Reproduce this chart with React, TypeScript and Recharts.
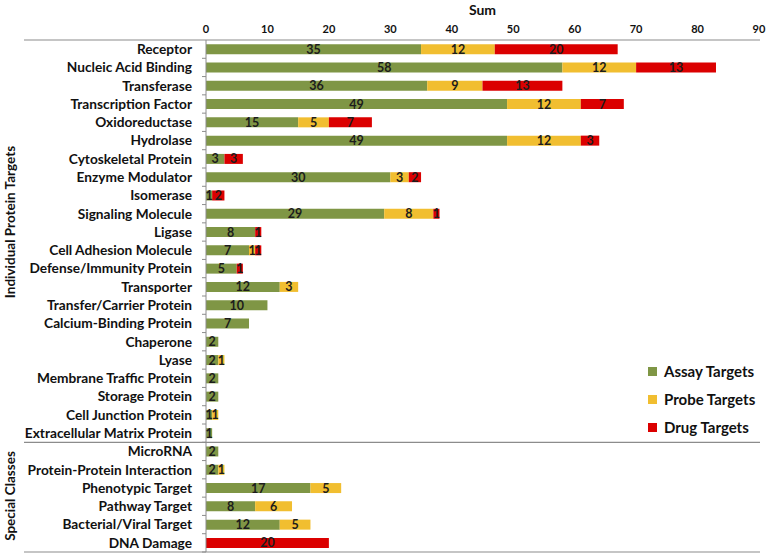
import React from 'react'
import { BarChart, Bar, XAxis, YAxis, Legend, LabelList } from 'recharts'

const categories = [
  'Receptor', 'Nucleic Acid Binding', 'Transferase', 'Transcription Factor',
  'Oxidoreductase', 'Hydrolase', 'Cytoskeletal Protein', 'Enzyme Modulator',
  'Isomerase', 'Signaling Molecule', 'Ligase', 'Cell Adhesion Molecule',
  'Defense/Immunity Protein', 'Transporter', 'Transfer/Carrier Protein',
  'Calcium-Binding Protein', 'Chaperone', 'Lyase', 'Membrane Traffic Protein',
  'Storage Protein', 'Cell Junction Protein', 'Extracellular Matrix Protein',
  'MicroRNA', 'Protein-Protein Interaction', 'Phenotypic Target',
  'Pathway Target', 'Bacterial/Viral Target', 'DNA Damage',
]
const assayTargets = [35, 58, 36, 49, 15, 49, 3, 30, 1, 29, 8, 7, 5, 12, 10, 7, 2, 2, 2, 2, 1, 1, 2, 2, 17, 8, 12, 0]
const probeTargets = [12, 12, 9, 12, 5, 12, 0, 3, 0, 8, 0, 1, 0, 3, 0, 0, 0, 1, 0, 0, 1, 0, 0, 1, 5, 6, 5, 0]
const drugTargets = [20, 13, 13, 7, 7, 3, 3, 2, 2, 1, 1, 1, 1, 0, 0, 0, 0, 0, 0, 0, 0, 0, 0, 0, 0, 0, 0, 20]
const xTicks = [0, 10, 20, 30, 40, 50, 60, 70, 80, 90]

const groups = [
  { name: 'Individual Protein Targets', first: 0, last: 21, center: 222 },
  { name: 'Special Classes', first: 22, last: 27, center: 496 },
]

const series = [
  { key: 'assay', name: 'Assay Targets', color: '#7f9645' },
  { key: 'probe', name: 'Probe Targets', color: '#f1be30' },
  { key: 'drug', name: 'Drug Targets', color: '#db0000' },
]

const data = categories.map((name, i) => ({
  name,
  assay: assayTargets[i],
  probe: probeTargets[i],
  drug: drugTargets[i],
}))

const W = 767
const H = 555
const TOP = 40
const BOTTOM = 552
const ROW = (BOTTOM - TOP) / categories.length
const FONT = 'Lato, "Open Sans", sans-serif'
const LINE = '#8c8c8c'

const CategoryTick = (props: any) => {
  const { x, y, payload, index } = props
  const top = y - ROW / 2
  const bottom = y + ROW / 2
  return (
    <g>
      <line x1={x - 4} x2={x} y1={bottom} y2={bottom} stroke={LINE} />
      {index === 0 && <line x1={24} x2={760} y1={top} y2={top} stroke={LINE} strokeWidth={1.2} />}
      {groups.map((g) => g.last === index && (
        <line key={g.name} x1={24} x2={760} y1={bottom} y2={bottom} stroke={LINE} strokeWidth={1.2} />
      ))}
      {groups.map((g) => g.first === index && (
        <text
          key={g.name}
          x={0}
          y={0}
          transform={`translate(15, ${g.center}) rotate(-90)`}
          textAnchor='middle'
          style={{ fontFamily: FONT, fontSize: 13.5, fontWeight: 700, fill: '#111' }}
        >
          {g.name}
        </text>
      ))}
      <text
        x={x - 14}
        y={y}
        dy='0.35em'
        textAnchor='end'
        style={{ fontFamily: FONT, fontSize: 13.7, fontWeight: 700, fill: '#111' }}
      >
        {payload.value}
      </text>
    </g>
  )
}

const SegmentLabel = (props: any) => {
  const { x, y, width, height, value } = props
  if (!value) return null
  return (
    <text
      x={x + width / 2}
      y={y + height / 2}
      dy='0.36em'
      textAnchor='middle'
      style={{ fontFamily: FONT, fontSize: 12.5, fontWeight: 700, fill: '#1c1c1c' }}
    >
      {value}
    </text>
  )
}

const LegendBox = () => (
  <div style={{ fontFamily: FONT, fontSize: 15, fontWeight: 700, color: '#111' }}>
    {series.map((s) => (
      <div key={s.key} style={{ display: 'flex', alignItems: 'center', height: 28 }}>
        <span style={{ width: 9, height: 9, background: s.color, marginRight: 7 }} />
        {s.name}
      </div>
    ))}
  </div>
)

export default function App() {
  return (
    <div style={{ position: 'absolute', left: 0, top: 0, width: W, height: H, background: '#fff' }}>
      <BarChart
        width={W}
        height={H}
        data={data}
        layout='vertical'
        margin={{ top: 0, right: 8, bottom: 3, left: 24 }}
        barCategoryGap='23%'
      >
        <XAxis
          type='number'
          orientation='top'
          domain={[0, 90]}
          ticks={xTicks}
          height={40}
          axisLine={false}
          tickLine={false}
          tickSize={0}
          tickMargin={7}
          tick={{ fontFamily: FONT, fontSize: 11, fontWeight: 700, fill: '#111' }}
          label={{
            value: 'Sum',
            position: 'insideTop',
            offset: 5,
            style: { fontFamily: FONT, fontSize: 14, fontWeight: 700, fill: '#111' },
          }}
        />
        <YAxis
          type='category'
          dataKey='name'
          width={182}
          interval={0}
          tickSize={0}
          tickMargin={0}
          tickLine={false}
          axisLine={{ stroke: LINE }}
          tick={<CategoryTick />}
        />
        <Legend
          layout='vertical'
          align='center'
          verticalAlign='middle'
          content={<LegendBox />}
          wrapperStyle={{ position: 'absolute', left: 648, top: 357, width: 120 }}
        />
        {series.map((s) => (
          <Bar key={s.key} dataKey={s.key} name={s.name} stackId='a' fill={s.color} isAnimationActive={false}>
            <LabelList dataKey={s.key} content={<SegmentLabel />} />
          </Bar>
        ))}
      </BarChart>
    </div>
  )
}
